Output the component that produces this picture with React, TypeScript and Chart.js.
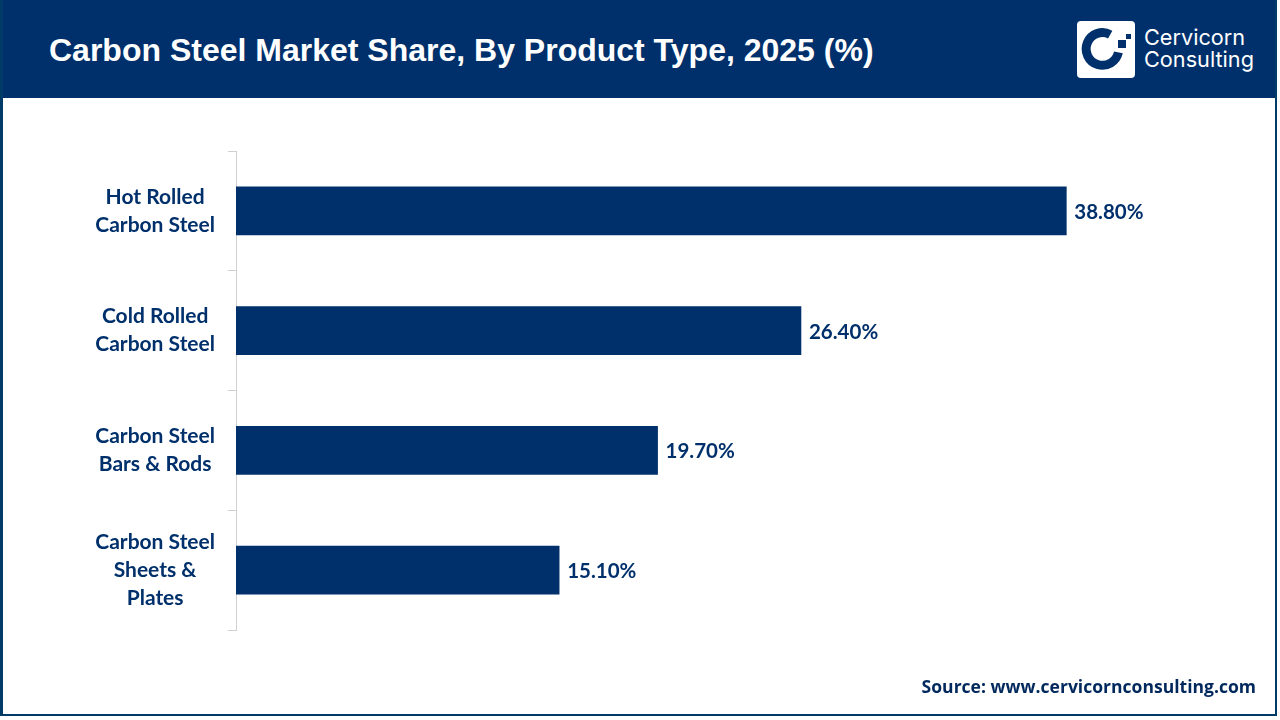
import React, { useEffect, useRef } from "react";
import { Chart, registerables } from "chart.js";

Chart.register(...registerables);

const categories = [
  ["Hot Rolled", "Carbon Steel"],
  ["Cold Rolled", "Carbon Steel"],
  ["Carbon Steel", "Bars & Rods"],
  ["Carbon Steel", "Sheets &", "Plates"],
];
const shares = [38.8, 26.4, 19.7, 15.1];
const titleText = "Carbon Steel Market Share, By Product Type, 2025 (%)";
const sourceText = "Source: www.cervicornconsulting.com";
const NAVY = "#00306b";
const LABEL_FONT = { family: "Lato", weight: "bold" as const, size: 21, lineHeight: 1.34 };

const valueLabels = {
  id: "valueLabels",
  afterDatasetsDraw(chart: Chart) {
    const { ctx } = chart;
    const meta = chart.getDatasetMeta(0);
    ctx.save();
    ctx.fillStyle = NAVY;
    ctx.font = "bold 20.5px Lato";
    ctx.textAlign = "left";
    ctx.textBaseline = "middle";
    meta.data.forEach((bar: any, i: number) => {
      ctx.fillText(shares[i].toFixed(2) + "%", bar.x + 8, bar.y + 1.5);
    });
    ctx.restore();
  },
};

export default function App() {
  const ref = useRef<HTMLCanvasElement>(null);
  useEffect(() => {
    document.body.style.margin = "0";
    const chart = new Chart(ref.current!, {
      type: "bar",
      data: {
        labels: categories,
        datasets: [
          {
            data: shares,
            backgroundColor: NAVY,
            barThickness: 48,
          },
        ],
      },
      options: {
        indexAxis: "y",
        animation: false,
        responsive: false,
        layout: { padding: { left: 0, right: 81, top: 151, bottom: 90 } },
        plugins: { legend: { display: false }, tooltip: { enabled: false } },
        scales: {
          x: { min: 0, max: 45, display: false },
          y: {
            afterFit(scale: any) {
              scale.width = 236;
            },
            offset: true,
            grid: {
              offset: true,
              drawOnChartArea: false,
              drawTicks: true,
              tickLength: 8,
              color: "#d0d0d0",
            },
            border: { display: true, color: "#d0d0d0" },
            ticks: {
              color: NAVY,
              font: LABEL_FONT,
              padding: 13,
              autoSkip: false,
              crossAlign: "center",
              align: "center",
            },
          },
        },
      },
      plugins: [valueLabels],
    } as any);
    return () => chart.destroy();
  }, []);

  return (
    <div style={{ position: "relative", width: 1280, height: 720, overflow: "hidden", background: "#fff" }}>
      <canvas ref={ref} width={1280} height={720} style={{ position: "absolute", left: 0, top: 0, width: 1280, height: 720 }} />
      <div style={{ position: "absolute", left: 0, top: 0, width: 1277, height: 98, background: NAVY }} />
      <div style={{ position: "absolute", left: 0, top: 0, width: 1277, height: 716, boxSizing: "border-box", borderLeft: "3px solid #003a66", borderRight: "2px solid #003a66", borderBottom: "2px solid #003a66", pointerEvents: "none" }} />
      <div style={{ position: "absolute", left: 49, top: 31, color: "#fff", whiteSpace: "nowrap", font: "bold 32px 'Liberation Sans'", lineHeight: "38px" }}>
        {titleText}
      </div>
      <svg style={{ position: "absolute", left: 1077, top: 21 }} width={58} height={57} viewBox="0 0 58 57">
        <rect x={0} y={0} width={58} height={57} rx={4} fill="#fff" />
        <path d="M 33.2 13.6 A 16.3 16.3 0 1 0 41.4 31.4" fill="none" stroke={NAVY} strokeWidth={9} />
        <rect x={41} y={19} width={8} height={8} fill={NAVY} />
        <rect x={49} y={13} width={5} height={5} fill={NAVY} />
      </svg>
      <div style={{ position: "absolute", left: 1144, top: 26, color: "#fff", font: "400 21.7px/22px Inter", whiteSpace: "nowrap" }}>
        Cervicorn
        <br />
        Consulting
      </div>
      <div style={{ position: "absolute", right: 24, top: 675, color: "#00285c", font: "bold 17.55px/22px 'Open Sans'", whiteSpace: "nowrap" }}>
        {sourceText}
      </div>
    </div>
  );
}
